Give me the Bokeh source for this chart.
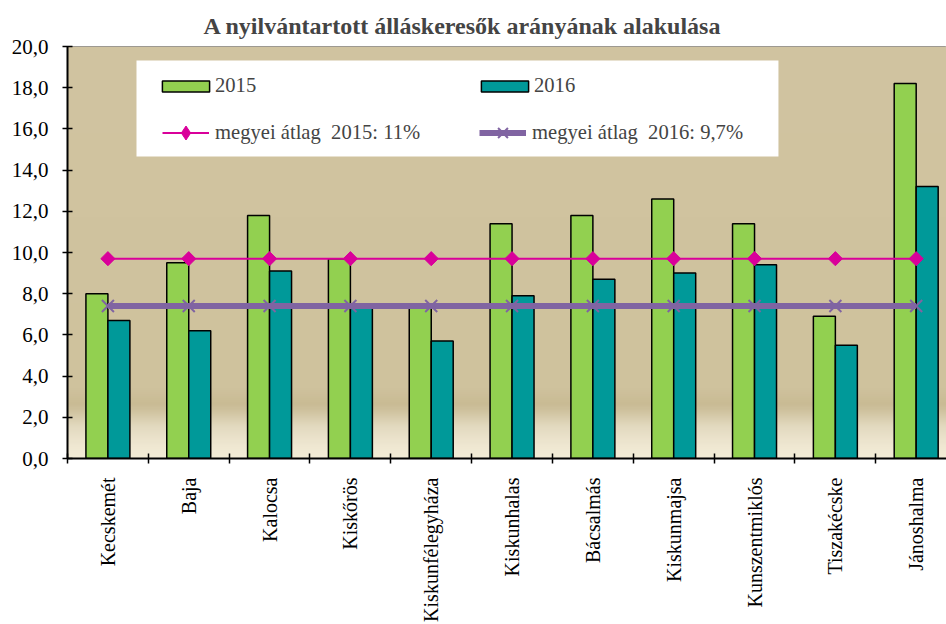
import numpy as np
from bokeh.plotting import figure
from bokeh.models import (Range1d, FixedTicker, Legend, LegendItem, BoxAnnotation)
from bokeh.embed import file_html
from bokeh.resources import INLINE

# ---- data ----
cities = ["Kecskemét", "Baja", "Kalocsa", "Kiskőrös", "Kiskunfélegyháza", "Kiskunhalas",
          "Bácsalmás", "Kiskunmajsa", "Kunszentmiklós", "Tiszakécske", "Jánoshalma"]
v2015 = [8.0, 9.5, 11.8, 9.7, 7.4, 11.4, 11.8, 12.6, 11.4, 6.9, 18.2]
v2016 = [6.7, 6.2, 9.1, 7.4, 5.7, 7.9, 8.7, 9.0, 9.4, 5.5, 13.2]
avg2015 = [9.7, 9.7, 9.7, 9.7, 9.7, 9.7, 9.7, 9.7, 9.7, 9.7, 9.7]
avg2016 = [7.4, 7.4, 7.4, 7.4, 7.4, 7.4, 7.4, 7.4, 7.4, 7.4, 7.4]
y_ticks = [0, 2, 4, 6, 8, 10, 12, 14, 16, 18, 20]
title_text = "A nyilvántartott álláskeresők arányának alakulása"
lbl15, lbl16 = "2015", "2016"
lbl_avg15, lbl_avg16 = "megyei átlag  2015: 11%", "megyei átlag  2016: 9,7%"

FONT = "Liberation Serif"
GREEN, TEAL, PINK, PURPLE = "#92D050", "#009999", "#D9009A", "#8064A2"

xs = list(range(len(cities)))
x15 = [x - 0.136 for x in xs]
x16 = [x + 0.136 for x in xs]

W, H = 946, 624
p = figure(width=W, height=H, output_backend="svg", toolbar_location=None,
           x_range=Range1d(-0.5, 10.375), y_range=Range1d(0, 20),
           min_border_left=67, min_border_right=0, min_border_top=46, min_border_bottom=166)
p.background_fill_color = "#D1C4A1"
p.border_fill_color = "white"
p.outline_line_color = "#8C8C8C"
p.outline_line_width = 1
p.xgrid.visible = False
p.ygrid.visible = False

N = 200
yy = (np.arange(N) + 0.5) / N * 20
kp = [0.0, 0.6, 1.6, 2.6, 3.4, 20.0]
cr = np.interp(yy, kp, [243, 240, 226, 201, 207, 209])
cg = np.interp(yy, kp, [236, 232, 217, 187, 194, 196])
cb = np.interp(yy, kp, [215, 210, 190, 148, 157, 161])
img = np.zeros((N, 1), dtype=np.uint32)
view = img.view(dtype=np.uint8).reshape((N, 1, 4))
view[:, 0, 0] = cr.astype(np.uint8)
view[:, 0, 1] = cg.astype(np.uint8)
view[:, 0, 2] = cb.astype(np.uint8)
view[:, 0, 3] = 255
p.image_rgba(image=[img], x=-0.5, y=0, dw=11, dh=20, level="image")

b15 = p.vbar(x=x15, top=v2015, width=0.272, fill_color=GREEN, line_color="black", line_width=1.5)
b16 = p.vbar(x=x16, top=v2016, width=0.272, fill_color=TEAL, line_color="black", line_width=1.5)

l15 = p.line(xs, avg2015, line_color=PINK, line_width=2)
s15 = p.scatter(xs, avg2015, marker="square", angle=np.pi / 4, size=10,
                fill_color=PINK, line_color=PINK)
s15_leg = p.scatter(xs, avg2015, marker="diamond", size=14,
                    fill_color=PINK, line_color=PINK, visible=False)
l16 = p.line(xs, avg2016, line_color=PURPLE, line_width=6)
s16 = p.scatter(xs, avg2016, marker="x", size=17, line_color=PURPLE, line_width=2)

p.yaxis.ticker = FixedTicker(ticks=y_ticks)
p.yaxis.major_label_overrides = {t: f"{t:.1f}".replace(".", ",") for t in y_ticks}
p.yaxis.minor_tick_line_color = None
p.yaxis.major_tick_out = 5
p.yaxis.major_tick_in = 5
p.yaxis.major_label_standoff = 14
p.yaxis.major_label_text_font_size = "21px"
for ax in (p.xaxis, p.yaxis):
    ax.axis_line_color = "black"
    ax.axis_line_width = 2
    ax.major_tick_line_color = "black"
    ax.major_tick_line_width = 1.5
    ax.major_label_text_font = FONT
    ax.major_label_text_color = "black"

p.xaxis.ticker = FixedTicker(ticks=xs, minor_ticks=[x - 0.5 for x in xs] + [10.5])
p.xaxis.major_label_overrides = {i: c for i, c in enumerate(cities)}
p.xaxis.major_label_orientation = np.pi / 2
p.xaxis.major_label_text_font_size = "20px"
p.xaxis.major_tick_out = 0
p.xaxis.major_tick_in = 0
p.xaxis.minor_tick_out = 5
p.xaxis.minor_tick_in = 5
p.xaxis.minor_tick_line_color = "black"
p.xaxis.minor_tick_line_width = 1.5
p.xaxis.major_label_standoff = 14

p.title.text = title_text
p.title.text_font = FONT
p.title.text_font_style = "bold"
p.title.text_font_size = "24px"
p.title.align = "left"
p.title.offset = 136
p.title.standoff = 16

box = BoxAnnotation(left=0.3536, right=8.296, bottom=14.66, top=19.32,
                    fill_color="white", fill_alpha=1, line_alpha=0)
p.add_layout(box)

legA = Legend(items=[LegendItem(label=lbl15, renderers=[b15]),
                     LegendItem(label=lbl16, renderers=[b16])],
              orientation="horizontal", location=(69, 341),
              glyph_width=59, glyph_height=14, label_standoff=0, label_width=250,
              label_height=20, spacing=10, padding=20,
              background_fill_alpha=0, border_line_alpha=0,
              label_text_font=FONT, label_text_font_size="20.6px")
legB = Legend(items=[LegendItem(label=lbl_avg15, renderers=[l15, s15_leg]),
                     LegendItem(label=lbl_avg16, renderers=[l16, s16])],
              orientation="horizontal", location=(85, 298),
              glyph_width=47, glyph_height=35, label_standoff=6, label_width=254,
              label_height=20, spacing=10, padding=10,
              background_fill_alpha=0, border_line_alpha=0,
              label_text_font=FONT, label_text_font_size="20.6px")
p.add_layout(legA)
p.add_layout(legB)

open("out.html", "w").write(file_html(p, INLINE))
